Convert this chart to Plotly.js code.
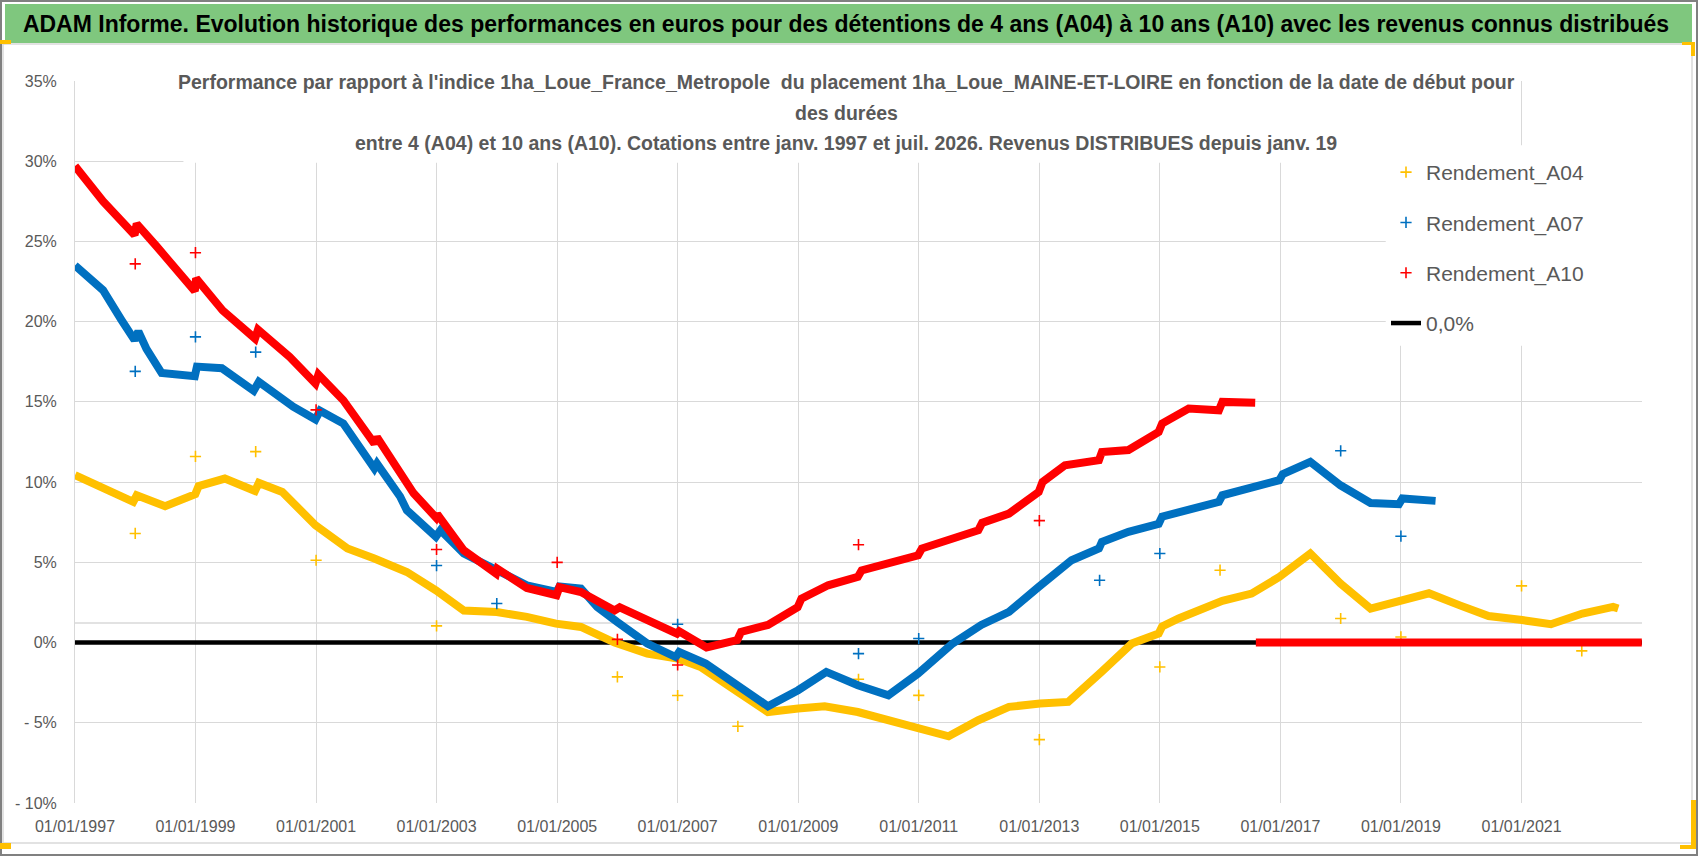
<!DOCTYPE html>
<html>
<head>
<meta charset="utf-8">
<script src="https://cdn.plot.ly/plotly-3.0.1.min.js"></script>
<style>
  html, body { margin: 0; padding: 0; background: #fff; }
  #chart { width: 1698px; height: 856px; }
</style>
</head>
<body>
<div id="chart"></div>
<script>
// Rendement_A04 : main band + isolated points on Jan 1st
var a04Dates = ['1997-01-01','1997-06-20','1997-12-20','1998-01-10','1998-07-01','1998-12-31','1999-01-20','1999-06-28','1999-12-28','2000-01-20',
  '2000-06-10','2000-12-28','2001-07-10','2001-12-20','2002-05-15','2002-07-05','2002-12-28','2003-06-15','2004-01-01','2004-07-01',
  '2004-12-25','2005-05-25','2005-12-15','2006-07-01','2006-12-31','2007-05-20','2007-12-31','2008-07-01','2008-12-31','2009-06-10',
  '2009-12-28','2010-07-01','2010-12-28','2011-07-01','2011-12-28','2012-07-01','2013-01-05','2013-06-25','2014-01-15','2014-07-15',
  '2014-12-25','2015-01-15','2015-04-25','2015-12-25','2016-01-15','2016-07-10','2016-12-25','2017-07-01','2017-12-31','2018-07-01',
  '2018-12-25','2019-06-20','2019-12-28','2020-06-15','2021-01-05','2021-06-28','2022-01-05','2022-07-10','2022-08-10']
var a04Vals = [10.43,9.6,8.77,9.18,8.5,9.25,9.75,10.22,9.45,9.95,
  9.39,7.31,5.86,5.24,4.71,4.4,3.26,2.0,1.9,1.6,
  1.18,0.97,0.0,-0.69,-1.0,-1.52,-3.08,-4.33,-4.11,-3.97,
  -4.33,-4.84,-5.36,-5.84,-4.84,-4.01,-3.8,-3.7,-1.8,-0.06,
  0.56,1.0,1.5,2.43,2.6,3.05,4.09,5.55,3.68,2.12,
  2.6,3.07,2.3,1.65,1.4,1.14,1.81,2.22,2.12]
var a04OutDates = ['1998-01-01','1999-01-01','2000-01-01','2001-01-01','2003-01-01','2006-01-01','2007-01-01','2008-01-01','2010-01-01',
  '2011-01-01','2013-01-01','2015-01-01','2016-01-01','2018-01-01','2019-01-01','2021-01-01','2022-01-01']
var a04OutVals = [6.8,11.6,11.9,5.13,1.04,-2.14,-3.3,-5.22,-2.29,-3.29,-6.05,-1.52,4.51,1.5,0.35,3.53,-0.52]

// Rendement_A07
var a07Dates = ['1997-01-01','1997-06-20','1997-10-10','1997-12-28','1998-01-20','1998-03-10','1998-06-10','1998-12-28','1999-01-10','1999-06-10',
  '1999-12-20','2000-01-20','2000-08-15','2000-12-28','2001-01-25','2001-06-15','2001-12-20','2002-01-05','2002-05-25','2002-07-05',
  '2002-12-28','2003-01-25','2003-06-15','2003-12-28','2004-07-01','2004-12-28','2005-01-15','2005-05-25','2005-09-01','2005-12-31',
  '2006-07-01','2006-12-20','2007-01-10','2007-06-20','2008-01-01','2008-07-01','2008-12-31','2009-06-20','2009-12-28','2010-07-01',
  '2010-12-28','2011-07-20','2012-01-15','2012-07-01','2012-12-28','2013-07-15','2013-12-28','2014-01-15','2014-06-25','2014-12-25',
  '2015-01-15','2015-12-25','2016-01-15','2016-12-25','2017-01-15','2017-07-01','2017-12-31','2018-07-01','2018-12-20','2019-01-10',
  '2019-07-30']
var a07Vals = [23.5,21.96,20.1,18.85,19.4,18.3,16.8,16.6,17.2,17.1,
  15.7,16.25,14.7,13.9,14.45,13.65,10.85,11.15,9.1,8.25,
  6.6,7.0,5.55,4.6,3.57,3.15,3.5,3.37,2.22,1.28,
  -0.06,-0.9,-0.59,-1.31,-2.66,-3.97,-2.97,-1.83,-2.66,-3.29,
  -1.93,-0.1,1.1,1.91,3.47,5.13,5.86,6.27,6.9,7.4,
  7.85,8.77,9.18,10.12,10.5,11.26,9.8,8.7,8.62,8.98,
  8.83]
var a07OutDates = ['1998-01-01','1999-01-01','2000-01-01','2003-01-01','2004-01-01','2007-01-01','2010-01-01','2011-01-01',
  '2014-01-01','2015-01-01','2018-01-01','2019-01-01']
var a07OutVals = [16.9,19.05,18.1,4.8,2.43,1.14,-0.69,0.25,3.88,5.55,11.95,6.63]

// Rendement_A10 (then 0 once no 10-year window is complete)
var a10Dates = ['1997-01-01','1997-06-20','1997-12-28','1998-01-10','1998-05-10','1998-12-28','1999-01-05','1999-06-15','1999-12-28','2000-01-15',
  '2000-07-25','2000-12-28','2001-01-15','2001-06-15','2001-12-20','2002-01-05','2002-08-15','2002-12-28','2003-01-05','2003-06-15',
  '2003-12-28','2004-01-05','2004-07-01','2004-12-28','2005-01-15','2005-05-25','2005-12-15','2006-01-15','2006-12-28','2007-01-10',
  '2007-06-25','2007-12-28','2008-01-20','2008-07-01','2008-12-28','2009-01-20','2009-07-01','2009-12-28','2010-01-20','2010-12-28',
  '2011-01-20','2011-07-15','2011-12-28','2012-01-20','2012-07-01','2012-12-28','2013-01-20','2013-06-05','2013-12-28','2014-01-15',
  '2014-06-25','2014-12-25','2015-01-15','2015-06-25','2015-12-25','2016-01-15','2016-08-01']
var a10Vals = [29.7,27.5,25.4,26.1,24.7,21.9,22.7,20.7,18.95,19.5,
  17.8,16.15,16.7,15.1,12.4,12.8,9.3,7.8,8.0,5.75,
  4.3,4.6,3.4,2.95,3.45,3.15,2.0,2.2,0.56,0.7,
  -0.3,0.15,0.66,1.1,2.2,2.74,3.57,4.09,4.5,5.44,
  5.86,6.38,7.0,7.46,8.04,9.39,10.0,11.05,11.37,11.88,
  12.0,13.13,13.65,14.59,14.48,15.0,14.94]
var a10ZeroDates = ['2016-08-05','2022-12-31']
var a10ZeroVals = [0,0]
var a10OutDates = ['1998-01-01','1999-01-01','2001-01-01','2003-01-01','2005-01-01','2006-01-01','2007-01-01','2010-01-01','2013-01-01']
var a10OutVals = [23.6,24.3,14.5,5.8,5.0,0.2,-1.4,6.1,7.6]

// 0,0% reference
var zeroDates = ['1997-01-01','2023-01-01']
var zeroVals = [0,0]

var xTickVals = ['1997-01-01','1999-01-01','2001-01-01','2003-01-01','2005-01-01','2007-01-01','2009-01-01',
  '2011-01-01','2013-01-01','2015-01-01','2017-01-01','2019-01-01','2021-01-01']
var yTickVals = [-10,-5,0,5,10,15,20,25,30,35]
var yTickText = ['- 10%','- 5%','0%','5%','10%','15%','20%','25%','30%','35%']

var YELLOW = '#FFC000', BLUE = '#0070C0', RED = '#FF0000'
var FONT = "'Liberation Sans', Arial, sans-serif"
var GREY = '#595959', GRID = '#d9d9d9'

// plot area in pixels, used to place the decorations
var PL = 75, PR = 1642, PT = 81, PB = 803
function px(x) { return (x - PL) / (PR - PL) }
function py(y) { return (PB - y) / (PB - PT) }

function band(x, y, color, group) {
  return { x: x, y: y, type: 'scatter', mode: 'lines', legendgroup: group, showlegend: false,
    line: { color: color, width: 8 }, hoverinfo: 'skip' }
}
function dots(x, y, color, name, rank) {
  return { x: x, y: y, type: 'scatter', mode: 'markers', name: name, legendgroup: name, legendrank: rank,
    marker: { symbol: 'cross-thin', size: 8, color: color, line: { color: color, width: 1.6 } } }
}

var data = [
  { x: zeroDates, y: zeroVals, type: 'scatter', mode: 'lines', name: '0,0%', legendgroup: 'zero', legendrank: 4,
    line: { color: '#000', width: 4.5 } },
  band(a04Dates, a04Vals, YELLOW, 'Rendement_A04'),
  dots(a04OutDates, a04OutVals, YELLOW, 'Rendement_A04', 1),
  band(a07Dates, a07Vals, BLUE, 'Rendement_A07'),
  dots(a07OutDates, a07OutVals, BLUE, 'Rendement_A07', 2),
  band(a10Dates, a10Vals, RED, 'Rendement_A10'),
  band(a10ZeroDates, a10ZeroVals, RED, 'Rendement_A10'),
  dots(a10OutDates, a10OutVals, RED, 'Rendement_A10', 3)
]

function handle(x0, y0, x1, y1) {
  return { type: 'rect', xref: 'paper', yref: 'paper', x0: px(x0), x1: px(x1), y0: py(y0), y1: py(y1),
    fillcolor: YELLOW, line: { width: 0 }, layer: 'above' }
}

var shapes = [
  // title band
  { type: 'rect', xref: 'paper', yref: 'paper', x0: px(5), x1: px(1692), y0: py(43), y1: py(4),
    fillcolor: '#7fc77e', line: { width: 0 }, layer: 'below' },
  // chart frame
  { type: 'rect', xref: 'paper', yref: 'paper', x0: px(3), x1: px(1692), y0: py(843), y1: py(44),
    line: { color: GRID, width: 1.5 }, layer: 'below' },
  { type: 'rect', xref: 'paper', yref: 'paper', x0: px(1), x1: px(1697), y0: py(855), y1: py(1),
    line: { color: '#808080', width: 2 }, layer: 'below' },
  // white boxes behind subtitle and legend hide the grid
  { type: 'rect', xref: 'x', yref: 'y', x0: '1998-10-20', x1: '2020-11-20', y0: 29.9, y1: 36,
    fillcolor: '#fff', line: { width: 0 }, layer: 'between' },
  { type: 'rect', xref: 'x', yref: 'y', x0: '2018-10-01', x1: '2023-01-01', y0: 18.5, y1: 31,
    fillcolor: '#fff', line: { width: 0 }, layer: 'between' },
  // horizontal axis line
  { type: 'line', xref: 'paper', yref: 'y', x0: 0, x1: 1, y0: 1.22, y1: 1.22,
    line: { color: GRID, width: 1.5 }, layer: 'between' },
  handle(0, 40, 11, 44), handle(0, 843, 11, 849),
  handle(1682, 42, 1695, 45), handle(1691, 42, 1695, 56),
  handle(1680, 845, 1696, 849), handle(1691, 800, 1696, 849)
]

var subLines = [
  "Performance par rapport à l'indice 1ha_Loue_France_Metropole  du placement 1ha_Loue_MAINE-ET-LOIRE en fonction de la date de début pour",
  'des durées',
  'entre 4 (A04) et 10 ans (A10). Cotations entre janv. 1997 et juil. 2026. Revenus DISTRIBUES depuis janv. 19'
]
var subY = [82, 113, 143]
var annotations = subLines.map(function (t, i) {
  return { text: '<b>' + t + '</b>', xref: 'paper', yref: 'paper', x: px(846), y: py(subY[i]), xanchor: 'center', yanchor: 'middle',
    showarrow: false, font: { family: FONT, size: 19.5, color: GREY } }
})

var layout = {
  width: 1698, height: 856, autosize: false,
  margin: { l: PL, r: 1698 - PR, t: PT, b: 856 - PB, pad: 0 },
  paper_bgcolor: '#fff', plot_bgcolor: '#fff',
  title: {
    text: '<b>ADAM Informe. Evolution historique des performances en euros pour des détentions de 4 ans (A04) à 10 ans (A10) avec les revenus connus distribués</b>',
    font: { family: FONT, size: 23, color: '#000' },
    xref: 'paper', x: px(846), xanchor: 'center', yref: 'container', y: 1 - 24 / 856, yanchor: 'middle'
  },
  xaxis: {
    type: 'date', range: ['1997-01-01', '2023-01-01'],
    tickvals: xTickVals, tickformat: '%d/%m/%Y', ticks: '', ticklabelstandoff: 12,
    tickfont: { family: FONT, size: 16, color: GREY },
    showgrid: true, gridcolor: GRID, gridwidth: 1, zeroline: false, showline: false
  },
  yaxis: {
    range: [-10, 35], tickvals: yTickVals, ticktext: yTickText, ticks: '', ticklabelstandoff: 14,
    tickfont: { family: FONT, size: 16, color: GREY },
    showgrid: true, gridcolor: GRID, gridwidth: 1, zeroline: false,
    showline: true, linecolor: GRID, linewidth: 1
  },
  showlegend: true,
  legend: {
    x: px(1386), y: py(152), xanchor: 'left', yanchor: 'top',
    traceorder: 'grouped', tracegroupgap: 20, bgcolor: 'rgba(0,0,0,0)',
    font: { family: FONT, size: 21, color: GREY }
  },
  shapes: shapes,
  annotations: annotations
}

Plotly.newPlot('chart', data, layout, { staticPlot: true, displayModeBar: false })
</script>
</body>
</html>
